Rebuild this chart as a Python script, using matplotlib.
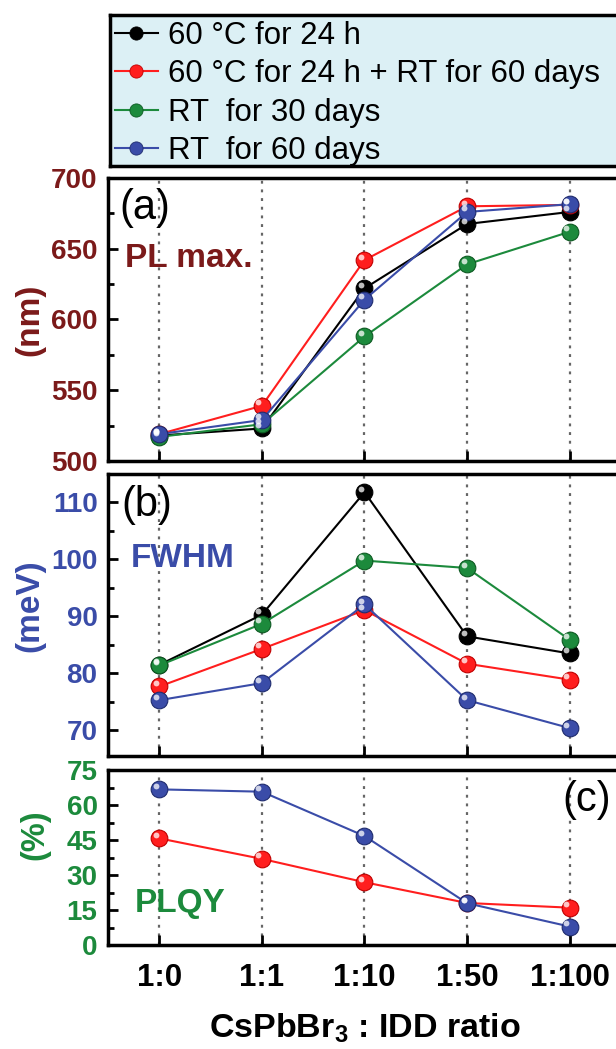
import matplotlib
matplotlib.use("Agg")
import matplotlib.pyplot as plt
from matplotlib.lines import Line2D
from matplotlib.transforms import ScaledTranslation
from matplotlib.ticker import MultipleLocator

plt.rcParams['font.family'] = ['Liberation Sans', 'DejaVu Sans']
plt.rcParams['mathtext.fontset'] = 'custom'
plt.rcParams['mathtext.bf'] = 'Liberation Sans:bold'
plt.rcParams['mathtext.rm'] = 'Liberation Sans'

categories = ["1:0", "1:1", "1:10", "1:50", "1:100"]
series_names = ["60 °C for 24 h", "60 °C for 24 h + RT for 60 days",
                "RT  for 30 days", "RT  for 60 days"]

pl_black = [518, 523, 622, 667.5, 676]
pl_red = [519, 539, 642, 680, 681]
pl_green = [517, 526, 588, 639, 662]
pl_blue = [519, 529, 614, 676, 681.5]

fw_black = [81.5, 90.3, 111.8, 86.5, 83.5]
fw_red = [77.7, 84.3, 91.1, 81.7, 78.9]
fw_green = [81.4, 88.7, 99.8, 98.5, 85.9]
fw_blue = [75.3, 78.3, 92.1, 75.3, 70.4]

qy_red = [45.7, 36.9, 26.9, 18.0, 16.0]
qy_blue = [66.7, 65.7, 46.7, 17.9, 7.9]

c_black = '#000000'
c_red = '#ff1e1e'
c_green = '#1c8a3c'
c_blue = '#3a4ca8'
edge = {c_black: '#000000', c_red: '#c00000', c_green: '#0d5a22', c_blue: '#1f2c6e'}

lab_a = '#7b1a1a'
lab_b = '#3a4ca8'
lab_c = '#1c8a3c'

fig = plt.figure(figsize=(6.16, 10.49), dpi=100)

W = 616.0
H = 1049.0
left = 108 / W
width = (621 - 108) / W

def pos(top, bottom):
    return [left, 1 - bottom / H, width, (bottom - top) / H]

ax_a = fig.add_axes(pos(178, 461))
ax_b = fig.add_axes(pos(474, 756))
ax_c = fig.add_axes(pos(770, 945))

x = list(range(len(categories)))
hl_offset = ScaledTranslation(-2.5 / 72, 2.5 / 72, fig.dpi_scale_trans)

def draw(ax, ys, color):
    ax.plot(x, ys, '-', color=color, lw=1.5, marker='o', ms=12,
            mfc=color, mec=edge[color], mew=0.8, zorder=3)
    ax.plot(x, ys, ls='none', marker='o', ms=4.2, mfc='white', mec='none',
            alpha=0.75, transform=ax.transData + hl_offset, zorder=4)

for ax in (ax_a, ax_b, ax_c):
    ax.set_xlim(-0.5, 4.5)
    for xi in x:
        ax.axvline(xi, color='#666666', ls=(0, (1.3, 2.6)), lw=1.6, zorder=1)
    for s in ax.spines.values():
        s.set_linewidth(2.5)
    ax.tick_params(axis='both', which='major', direction='in', length=7, width=2,
                   right=False, top=False, labelsize=20)
    ax.tick_params(axis='y', which='major', pad=7.5)
    ax.tick_params(axis='both', which='minor', direction='in', length=4, width=2,
                   right=False, top=False)
    ax.set_xticks(x)

# panel a
for ys, c in ((pl_black, c_black), (pl_red, c_red), (pl_green, c_green), (pl_blue, c_blue)):
    draw(ax_a, ys, c)
ax_a.set_ylim(500, 700)
ax_a.yaxis.set_major_locator(MultipleLocator(50))
ax_a.yaxis.set_minor_locator(MultipleLocator(25))
ax_a.set_xticklabels([])

# panel b
for ys, c in ((fw_black, c_black), (fw_red, c_red), (fw_green, c_green), (fw_blue, c_blue)):
    draw(ax_b, ys, c)
ax_b.set_ylim(65.5, 115)
ax_b.yaxis.set_major_locator(MultipleLocator(10))
ax_b.yaxis.set_minor_locator(MultipleLocator(5))
ax_b.set_xticklabels([])

# panel c
for ys, c in ((qy_red, c_red), (qy_blue, c_blue)):
    draw(ax_c, ys, c)
ax_c.set_ylim(0, 75)
ax_c.yaxis.set_major_locator(MultipleLocator(15))
ax_c.yaxis.set_minor_locator(MultipleLocator(7.5))
ax_c.set_xticklabels(categories, fontsize=22.5, fontweight='bold')
ax_c.tick_params(axis='x', pad=13)

for ax, col in ((ax_a, lab_a), (ax_b, lab_b), (ax_c, lab_c)):
    for lbl in ax.get_yticklabels():
        lbl.set_fontweight('bold')
        lbl.set_color(col)

ax_a.set_ylabel('(nm)', fontsize=24, fontweight='bold', color=lab_a)
ax_b.set_ylabel('(meV)', fontsize=24, fontweight='bold', color=lab_b)
ax_c.set_ylabel('(%)', fontsize=23.5, fontweight='bold', color=lab_c)
ax_a.yaxis.set_label_coords(-0.123, 0.5)
ax_b.yaxis.set_label_coords(-0.123, 0.532)
ax_c.yaxis.set_label_coords(-0.113, 0.63)

ax_c.set_xlabel(r'CsPbBr$_\mathbf{3}$ : IDD ratio', fontsize=24.5, fontweight='bold', labelpad=13)

ax_a.text(0.023, 0.855, '(a)', transform=ax_a.transAxes, fontsize=30, va='baseline', ha='left')
ax_a.text(0.033, 0.686, 'PL max.', transform=ax_a.transAxes, fontsize=24, fontweight='bold',
          color=lab_a, va='baseline', ha='left')
ax_b.text(0.027, 0.851, '(b)', transform=ax_b.transAxes, fontsize=30, va='baseline', ha='left')
ax_b.text(0.045, 0.670, 'FWHM', transform=ax_b.transAxes, fontsize=24, fontweight='bold',
          color=lab_b, va='baseline', ha='left')
ax_c.text(0.885, 0.766, '(c)', transform=ax_c.transAxes, fontsize=30, va='baseline', ha='left')
ax_c.text(0.0526, 0.189, 'PLQY', transform=ax_c.transAxes, fontsize=24, fontweight='bold',
          color=lab_c, va='baseline', ha='left')

# legend box
ax_l = fig.add_axes([110 / W, 1 - 166 / H, (625 - 110) / W, (166 - 15) / H])
ax_l.set_facecolor('#dcf0f5')
ax_l.set_xticks([])
ax_l.set_yticks([])
for s in ax_l.spines.values():
    s.set_linewidth(2.5)
handles = []
for c in (c_black, c_red, c_green, c_blue):
    handles.append(Line2D([], [], color=c, lw=1.5, marker='o', ms=9.5, mfc=c,
                          mec=edge[c], mew=0.6))
ax_l.legend(handles, series_names, loc='center left', bbox_to_anchor=(0.0, 0.48),
            frameon=False, fontsize=22.5, handlelength=1.38, handletextpad=0.32,
            labelspacing=0.27, borderaxespad=0, borderpad=0.15)

fig.savefig('out.png', dpi=100)
